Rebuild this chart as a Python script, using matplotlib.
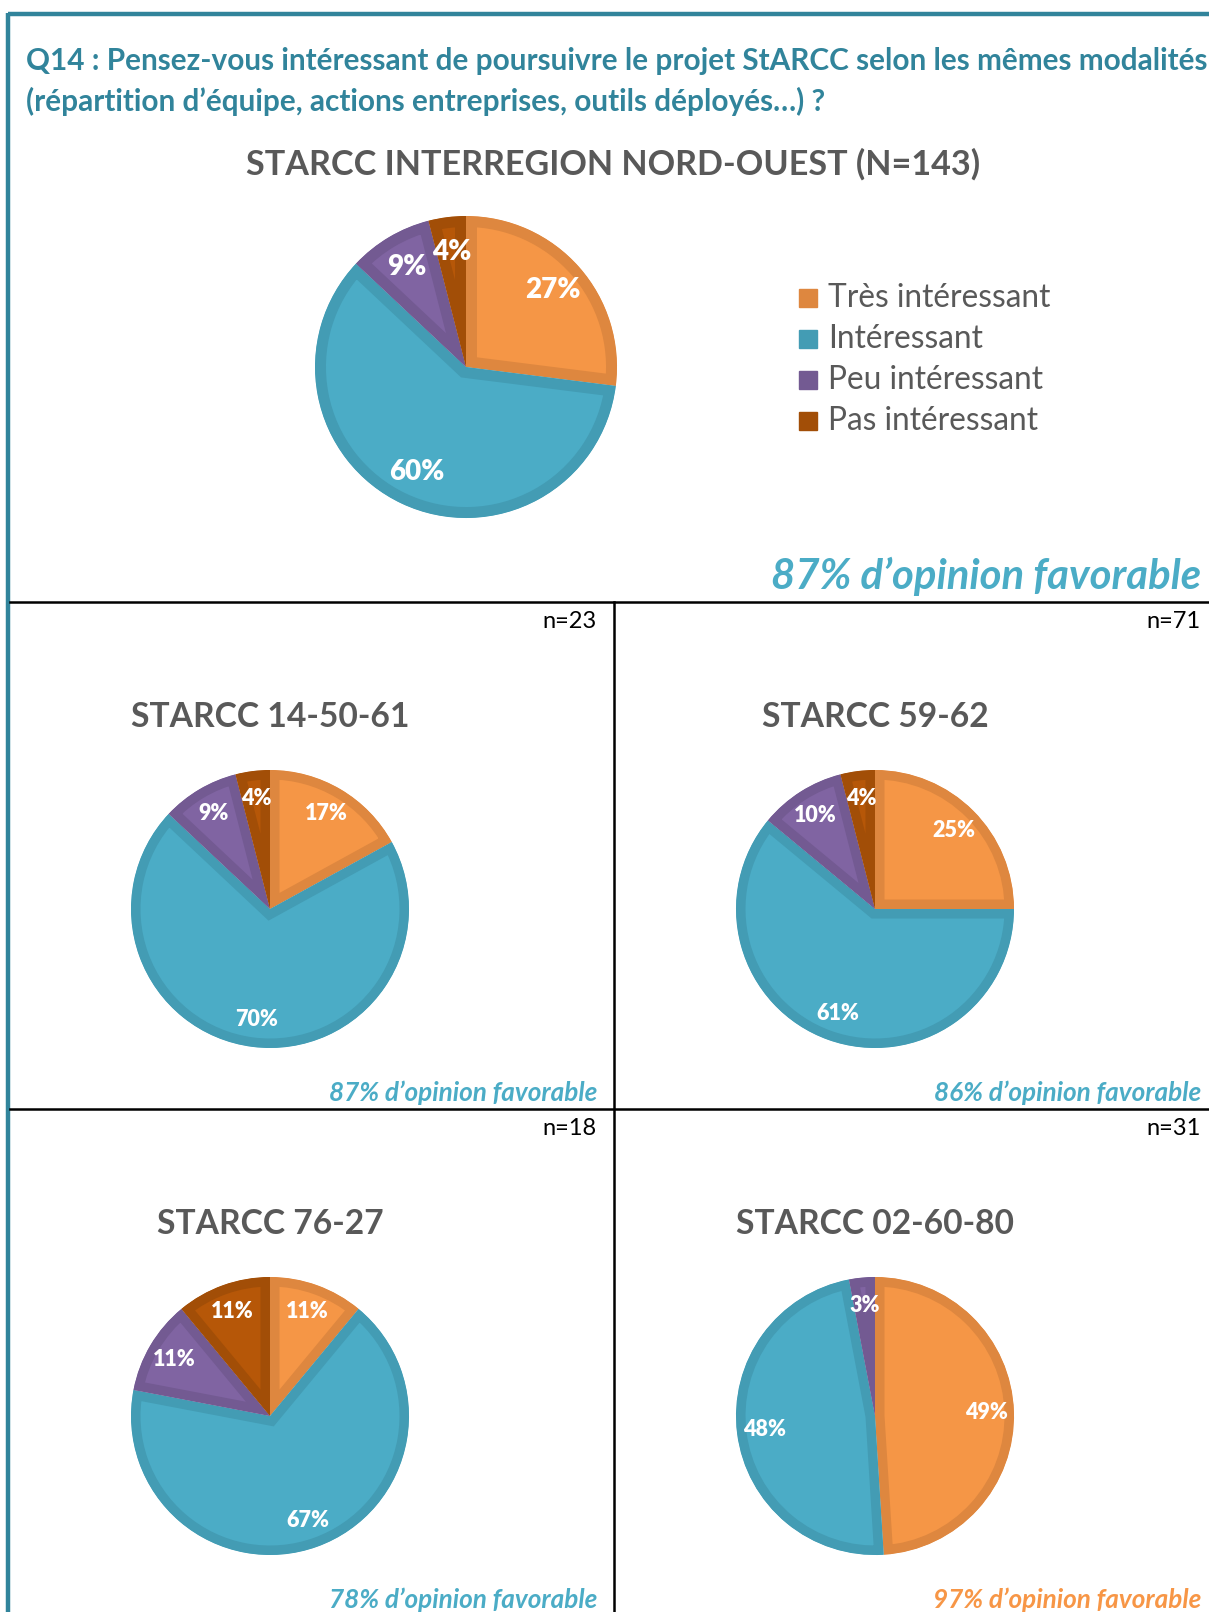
import matplotlib
matplotlib.use('Agg')
import matplotlib.pyplot as plt
from matplotlib.patches import Rectangle

# data
categories = ['Très intéressant', 'Intéressant', 'Peu intéressant', 'Pas intéressant']
main_title = 'STARCC INTERREGION NORD-OUEST (N=143)'
main_values = [27, 60, 9, 4]

panel_titles = ['STARCC 14-50-61', 'STARCC 59-62', 'STARCC 76-27', 'STARCC 02-60-80']
panel_n = [23, 71, 18, 31]
panel_values = [
    [17, 70, 9, 4],
    [25, 61, 10, 4],
    [11, 67, 11, 11],
    [49, 48, 3, 0],
]
panel_fav_colors = ['#4BACC6', '#4BACC6', '#4BACC6', '#F79646']

question = ['Q14 : Pensez-vous intéressant de poursuivre le projet StARCC selon les mêmes modalités',
            '(répartition d’équipe, actions entreprises, outils déployés…) ?']

fills = ['#F59646', '#4BACC6', '#8064A2', '#B65708']
edges = ['#DE873F', '#439CB4', '#735A92', '#A24E07']
TEAL = '#31849B'
GREY = '#595959'

W, H = 1209, 1612
plt.rcParams['font.family'] = ['Lato', 'DejaVu Sans']

fig = plt.figure(figsize=(W / 100, H / 100), dpi=100, facecolor='w')
bg = fig.add_axes([0, 0, 1, 1])
bg.set_xlim(0, W)
bg.set_ylim(H, 0)
bg.axis('off')


def fav_text(vals):
    return '%d%% d’opinion favorable' % (vals[0] + vals[1])


def draw_pie(cx, cy, r, vals, fs, lw, pd=0.8):
    ax = fig.add_axes([(cx - r * 1.1) / W, 1 - (cy + r * 1.1) / H, 2.2 * r / W, 2.2 * r / H])
    wedges, texts, autotexts = ax.pie(
        vals, colors=fills, startangle=90, counterclock=False, radius=1,
        autopct=lambda p: '%.0f%%' % p if p > 0.5 else '', pctdistance=pd,
        textprops=dict(color='white', fontsize=fs, fontweight='heavy'),
        wedgeprops=dict(linewidth=lw))
    for w, ec in zip(wedges, edges):
        w.set_edgecolor(ec)
        w.set_clip_on(True)
        w.set_clip_path(w)  # keep border inside the slice
    ax.set_xlim(-1.1, 1.1)
    ax.set_ylim(-1.1, 1.1)
    ax.set_aspect('equal')
    return ax


# frame
bg.plot([8, W], [14, 14], color=TEAL, lw=3.2, solid_capstyle='butt')
bg.plot([8, 8], [13, H], color=TEAL, lw=3.2, solid_capstyle='butt')
bg.plot([10, W], [602, 602], color='black', lw=1.8)
bg.plot([10, W], [1109, 1109], color='black', lw=1.8)
bg.plot([614, 614], [602, H], color='black', lw=1.8)

# question
bg.text(26, 70, question[0], color=TEAL, fontsize=21.4, fontweight='bold', va='baseline')
bg.text(26, 111, question[1], color=TEAL, fontsize=21.4, fontweight='bold', va='baseline')

# main chart
bg.text(613, 175, main_title, color=GREY, fontsize=24.6, fontweight='bold', ha='center', va='baseline')
draw_pie(466, 367, 151, main_values, 20, 15.8, pd=0.77)
for i, cat in enumerate(categories):
    y = 298 + i * 41
    bg.add_patch(Rectangle((799, y - 9), 18, 18, color=edges[i]))
    bg.text(828, y, cat, color=GREY, fontsize=22.8, va='center')
bg.text(1201, 589, fav_text(main_values), color='#4BACC6', fontsize=30.2,
        fontweight='bold', fontstyle='italic', ha='right', va='baseline')

# panels
centers_x = [270, 875, 270, 875]
tops = [602, 602, 1109, 1109]
rights = [597, 1201, 597, 1201]
for k in range(4):
    top = tops[k]
    cx = centers_x[k]
    bg.text(rights[k], top + 26, 'n=%d' % panel_n[k], color='black', fontsize=17, ha='right', va='baseline')
    bg.text(cx, top + 125, panel_titles[k], color=GREY, fontsize=24.2, fontweight='bold', ha='center', va='baseline')
    draw_pie(cx, top + 307, 139, panel_values[k], 15.5, 13.7)
    bg.text(rights[k], top + 499, fav_text(panel_values[k]), color=panel_fav_colors[k], fontsize=18.8,
            fontweight='bold', fontstyle='italic', ha='right', va='baseline')

fig.savefig('out.png', dpi=100, facecolor='w')
